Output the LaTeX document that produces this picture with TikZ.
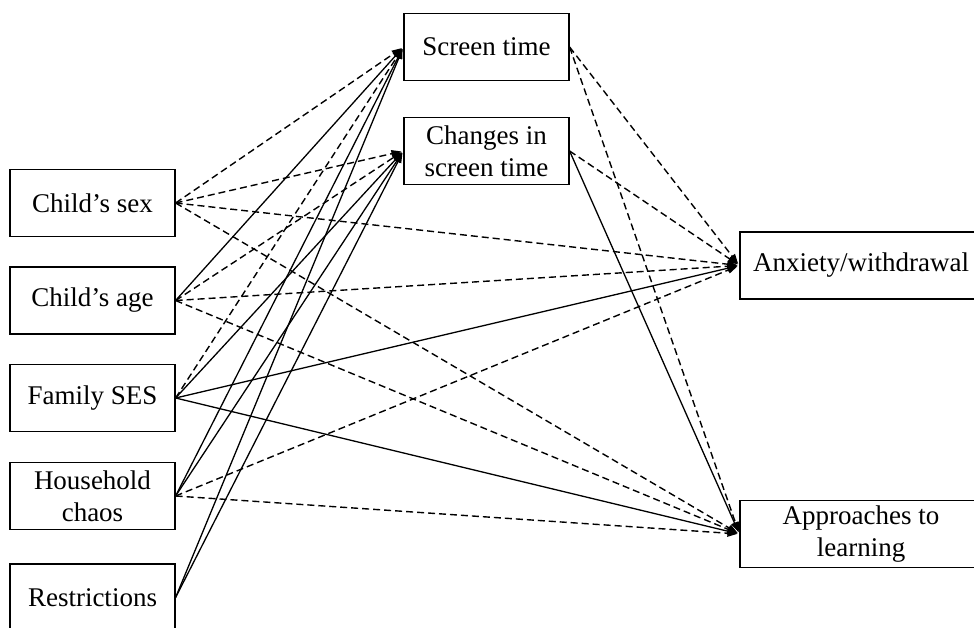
\documentclass[tikz,border=0pt]{standalone}
\usepackage{fontspec}
\setmainfont{Liberation Serif}
\usetikzlibrary{arrows.meta}
\begin{document}
\begin{tikzpicture}[x=1pt,y=-1pt,
  box/.style={draw, line width=1.2pt, minimum width=165pt, minimum height=67pt,
    inner sep=0pt, align=center, font=\fontsize{27}{32}\selectfont},
  wide/.style={box, minimum width=242pt},
  link/.style={line width=1.3pt, -{Triangle[length=10pt,width=7pt]}, shorten >=2pt},
  sig/.style={link},
  ns/.style={link, line width=1.4pt, dash pattern=on 7pt off 4pt}]
\clip (0,0) rectangle (974,628);

% predictors
\node[box] (sex)   at (92.5,203)   {Child’s sex};
\node[box] (age)   at (92.5,300.5) {Child’s age};
\node[box] (ses)   at (92.5,398)   {Family SES};
\node[box] (chaos) at (92.5,496)   {Household\\chaos};
\node[box] (restr) at (92.5,597.5) {Restrictions};

% mediators
\node[box] (st) at (486.5,47)  {Screen time};
\node[box] (ch) at (486.5,151) {Changes in\\screen time};

% outcomes
\node[wide] (anx) at (861,265.5) {Anxiety/withdrawal};
\node[wide] (app) at (861,534)   {Approaches to\\learning};

% paths from predictors
\draw[ns]  (sex.east) -- (st.west);
\draw[ns]  (sex.east) -- (ch.west);
\draw[ns]  (sex.east) -- (anx.west);
\draw[ns]  (sex.east) -- (app.west);

\draw[sig] (age.east) -- (st.west);
\draw[ns]  (age.east) -- (ch.west);
\draw[ns]  (age.east) -- (anx.west);
\draw[ns]  (age.east) -- (app.west);

\draw[ns]  (ses.east) -- (st.west);
\draw[sig] (ses.east) -- (ch.west);
\draw[sig] (ses.east) -- (anx.west);
\draw[sig] (ses.east) -- (app.west);

\draw[sig] (chaos.east) -- (st.west);
\draw[sig] (chaos.east) -- (ch.west);
\draw[ns]  (chaos.east) -- (anx.west);
\draw[ns]  (chaos.east) -- (app.west);

\draw[sig] (restr.east) -- (st.west);
\draw[sig] (restr.east) -- (ch.west);

% paths from mediators
\draw[ns]  (st.east) -- (anx.west);
\draw[ns]  (st.east) -- (app.west);
\draw[ns]  (ch.east) -- (anx.west);
\draw[sig] (ch.east) -- (app.west);
\end{tikzpicture}
\end{document}
